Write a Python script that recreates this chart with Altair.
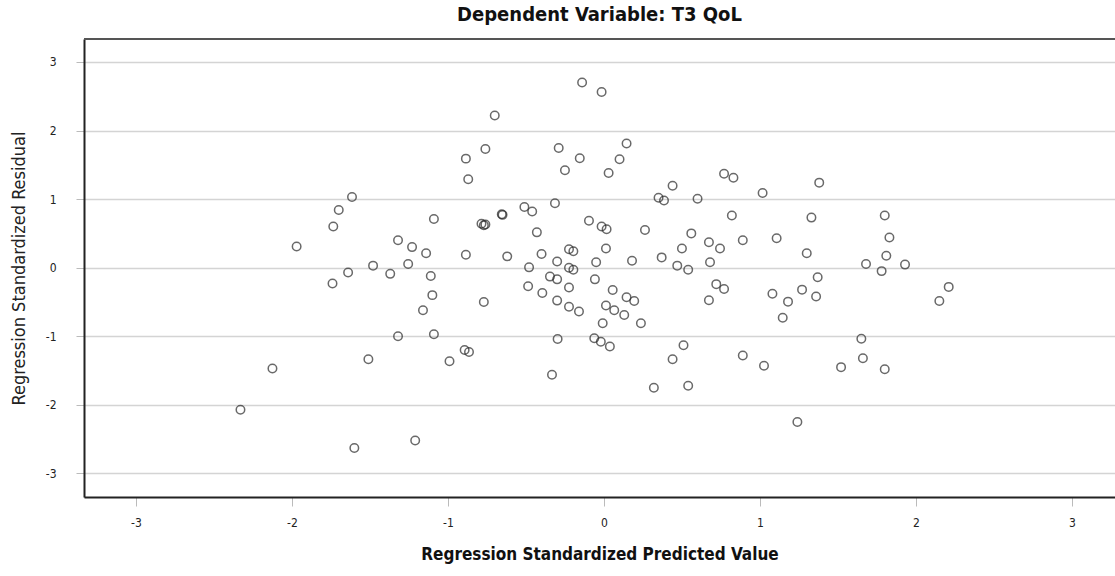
import altair as alt
import pandas as pd

pred = [-1.615, -1.70, -1.735, -1.97, -1.48, -1.64, -1.74, -0.14, -0.015, -0.70,
        -0.76, -0.885, -0.87, -0.29, -0.155, -0.25, 0.145, 0.10, 0.03, 0.44,
        0.35, 0.385, -0.51, -0.46, -0.314, -1.09, -0.785, -0.77, -0.76, -0.655,
        -0.65, -0.43, -0.096, -0.015, 0.017, 0.263, 0.013, -1.32, -1.23, -1.14,
        -0.885, -0.62, -0.40, -0.224, -0.196, -0.30, -0.05, 0.18, 0.37, -1.37,
        -1.255, -1.11, -0.48, -0.224, -0.196, -0.346, -0.30, -0.058, 0.77, 0.83,
        1.017, 1.38, 0.60, 0.82, 1.33, 1.80, 0.56, 0.673, 0.744, 0.89,
        1.107, 1.83, 0.50, 0.47, 0.54, 0.68, 1.30, 1.81, 1.68, 1.78,
        1.93, 1.37, -1.51, -2.125, -2.33, -1.60, -1.10, -1.16, -1.32, -1.09,
        -0.77, -0.893, -0.865, -0.99, -1.21, -0.486, -0.224, -0.395, -0.30, -0.224,
        -0.16, 0.056, 0.145, 0.194, 0.013, 0.066, 0.13, -0.008, 0.237, -0.297,
        -0.062, -0.02, 0.038, -0.333, 0.32, 0.44, 0.72, 0.77, 0.673, 1.08,
        1.18, 1.27, 1.36, 1.146, 2.15, 2.21, 0.51, 0.54, 0.89, 1.026,
        1.24, 1.52, 1.65, 1.66, 1.80]

resid = [1.03, 0.84, 0.60, 0.31, 0.03, -0.07, -0.23, 2.70, 2.56, 2.22,
         1.73, 1.59, 1.29, 1.745, 1.595, 1.42, 1.81, 1.58, 1.38, 1.195,
         1.02, 0.98, 0.885, 0.82, 0.94, 0.71, 0.64, 0.62, 0.63, 0.78,
         0.77, 0.515, 0.685, 0.60, 0.56, 0.55, 0.28, 0.40, 0.30, 0.21,
         0.19, 0.165, 0.20, 0.27, 0.24, 0.09, 0.08, 0.10, 0.15, -0.09,
         0.055, -0.12, 0.005, 0.0, -0.03, -0.13, -0.17, -0.17, 1.37, 1.31,
         1.09, 1.24, 1.006, 0.76, 0.73, 0.76, 0.50, 0.37, 0.28, 0.40,
         0.43, 0.44, 0.28, 0.03, -0.03, 0.08, 0.21, 0.175, 0.054, -0.05,
         0.045, -0.14, -1.335, -1.47, -2.07, -2.63, -0.40, -0.62, -1.0, -0.97,
         -0.50, -1.20, -1.23, -1.365, -2.52, -0.27, -0.29, -0.37, -0.48, -0.57,
         -0.64, -0.325, -0.43, -0.485, -0.55, -0.62, -0.69, -0.81, -0.81, -1.04,
         -1.03, -1.08, -1.15, -1.56, -1.75, -1.335, -0.24, -0.31, -0.475, -0.38,
         -0.495, -0.32, -0.42, -0.73, -0.485, -0.28, -1.13, -1.72, -1.28, -1.43,
         -2.25, -1.45, -1.035, -1.32, -1.48]

tick_vals = [-3, -2, -1, 0, 1, 2, 3]

df = pd.DataFrame({"pred": pred, "resid": resid})

FONT = "DejaVu Sans Condensed, Liberation Sans, sans-serif"
W, H = 1031, 458

x_enc = alt.X("pred:Q",
              scale=alt.Scale(domain=[-3.333, 3.276], nice=False, zero=False),
              axis=alt.Axis(values=tick_vals, labelExpr="'' + datum.value", grid=False,
                            title="Regression Standardized Predicted Value",
                            titleFont=FONT, titleFontSize=17, titleFontWeight="bold",
                            titleColor="#111", titlePadding=18,
                            labelFont=FONT, labelFontSize=12, labelColor="#222",
                            labelPadding=11, tickSize=9, tickColor="#bbb",
                            tickWidth=1, domainColor="#222", domainWidth=2))
y_enc = alt.Y("resid:Q",
              scale=alt.Scale(domain=[-3.343, 3.334], nice=False, zero=False),
              axis=alt.Axis(values=tick_vals, labelExpr="'' + datum.value", grid=True,
                            gridColor="#d4d4d4", gridWidth=1.5,
                            title="Regression Standardized Residual",
                            titleFont=FONT, titleFontSize=18, titleFontWeight=500,
                            titleColor="#222", titlePadding=17,
                            labelFont=FONT, labelFontSize=12, labelColor="#222",
                            labelPadding=20, tickSize=8, tickColor="#bbb",
                            tickWidth=1, domainColor="#222", domainWidth=2))

points = alt.Chart(df).mark_point(
    shape="circle", filled=False, size=72, stroke="#2a2a2a", strokeWidth=1.5
).encode(x=x_enc, y=y_enc)

top_border = alt.Chart(df).mark_rule(color="#555", strokeWidth=2).encode(
    x=alt.value(0), x2=alt.value(W), y=alt.value(0)
)

chart = alt.layer(points, top_border).properties(
    width=W, height=H,
    title=alt.TitleParams("Dependent Variable: T3 QoL", font=FONT, fontSize=20,
                          fontWeight="bold", color="#111", anchor="middle", offset=13),
    autosize=alt.AutoSizeParams(type="none"),
    padding={"left": 84, "top": 39, "right": 0, "bottom": 79},
).configure_view(stroke=None).configure(background="white")

chart.save("out.html", embed_options={"renderer": "svg", "actions": False})
